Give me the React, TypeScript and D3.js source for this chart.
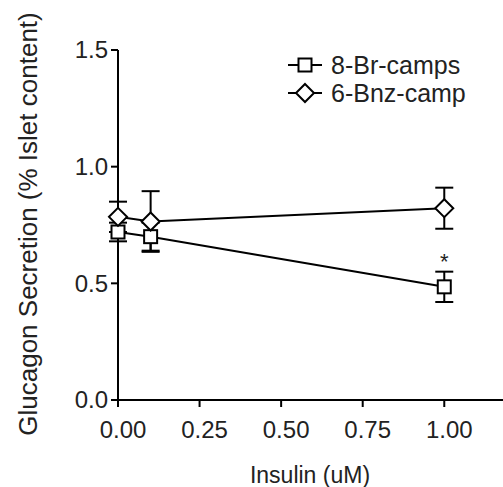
import React from "react";
import * as d3 from "d3";

const insulin = [0, 0.1, 1.0];
const brMean = [0.72, 0.70, 0.485];
const brErr = [0.04, 0.06, 0.065];
const bnzMean = [0.785, 0.765, 0.822];
const bnzErr = [0.065, 0.13, 0.088];
const xTicks = [0, 0.25, 0.5, 0.75, 1.0];
const yTicks = [0, 0.5, 1.0, 1.5];
const seriesNames = ["8-Br-camps", "6-Bnz-camp"];

const W = 503, H = 487;
const font = "Liberation Sans, Arial, sans-serif";

export default function App() {
  const x = d3.scaleLinear().domain([0, 1.18]).range([118, 503]);
  const y = d3.scaleLinear().domain([0, 1.5]).range([400, 50]);
  const line = d3.line<number>().x((_, i) => x(insulin[i])).y((d) => y(d));

  const errBars = (means: number[], errs: number[], key: string) =>
    means.map((m, i) => {
      const cx = x(insulin[i]);
      const hi = y(m + errs[i]);
      const lo = y(m - errs[i]);
      return (
        <g key={key + i} stroke="#000" strokeWidth={2}>
          <line x1={cx} x2={cx} y1={hi} y2={lo} />
          <line x1={cx - 9} x2={cx + 9} y1={hi} y2={hi} />
          <line x1={cx - 9} x2={cx + 9} y1={lo} y2={lo} />
        </g>
      );
    });

  const square = (cx: number, cy: number, k: string) => (
    <rect key={k} x={cx - 6.5} y={cy - 6.5} width={13} height={13} fill="#fff" stroke="#000" strokeWidth={2} />
  );
  const diamond = (cx: number, cy: number, k: string) => (
    <path key={k} d={`M${cx},${cy - 9}L${cx + 9},${cy}L${cx},${cy + 9}L${cx - 9},${cy}Z`} fill="#fff" stroke="#000" strokeWidth={2} />
  );

  return (
    <svg width={W} height={H} style={{ position: "absolute", left: 0, top: 0 }} fontFamily={font}>
      <rect width={W} height={H} fill="#fff" />
      {/* axes */}
      <line x1={x(0)} x2={x(0)} y1={y(1.5)} y2={y(0)} stroke="#000" strokeWidth={2} />
      <line x1={x(0)} x2={W} y1={y(0)} y2={y(0)} stroke="#000" strokeWidth={2} />
      {yTicks.map((t) => (
        <g key={"yt" + t}>
          <line x1={x(0) - 7} x2={x(0)} y1={y(t)} y2={y(t)} stroke="#000" strokeWidth={2} />
          <text x={x(0) - 10} y={y(t)} dy="0.35em" textAnchor="end" fontSize={24} fill="#222">
            {t.toFixed(1)}
          </text>
        </g>
      ))}
      {xTicks.map((t) => (
        <g key={"xt" + t}>
          <line x1={x(t)} x2={x(t)} y1={y(0)} y2={y(0) + 7} stroke="#000" strokeWidth={2} />
          <text x={x(t) + 5} y={y(0) + 38} textAnchor="middle" fontSize={24} fill="#222">
            {t.toFixed(2)}
          </text>
        </g>
      ))}
      <text x={310} y={483} textAnchor="middle" fontSize={23} fill="#222">
        Insulin (uM)
      </text>
      <text transform={`translate(37,224) rotate(-90)`} textAnchor="middle" fontSize={26} fill="#222">
        Glucagon Secretion (% Islet content)
      </text>
      {/* error bars */}
      {errBars(brMean, brErr, "be")}
      {errBars(bnzMean, bnzErr, "ze")}
      {/* lines */}
      <path d={line(brMean) || ""} fill="none" stroke="#000" strokeWidth={2} />
      <path d={line(bnzMean) || ""} fill="none" stroke="#000" strokeWidth={2} />
      {brMean.map((m, i) => square(x(insulin[i]), y(m), "s" + i))}
      {bnzMean.map((m, i) => diamond(x(insulin[i]), y(m), "d" + i))}
      <text x={x(1.0)} y={y(brMean[2] + brErr[2]) - 3} textAnchor="middle" fontSize={22} fill="#222">*</text>
      {/* legend */}
      <g>
        <line x1={288} x2={322} y1={65} y2={65} stroke="#000" strokeWidth={2} />
        {square(305, 65, "ls")}
        <text x={331} y={65} dy="0.35em" fontSize={25} fill="#222">{seriesNames[0]}</text>
        <line x1={288} x2={322} y1={93} y2={93} stroke="#000" strokeWidth={2} />
        {diamond(305, 93, "ld")}
        <text x={331} y={93} dy="0.35em" fontSize={25} fill="#222">{seriesNames[1]}</text>
      </g>
    </svg>
  );
}
